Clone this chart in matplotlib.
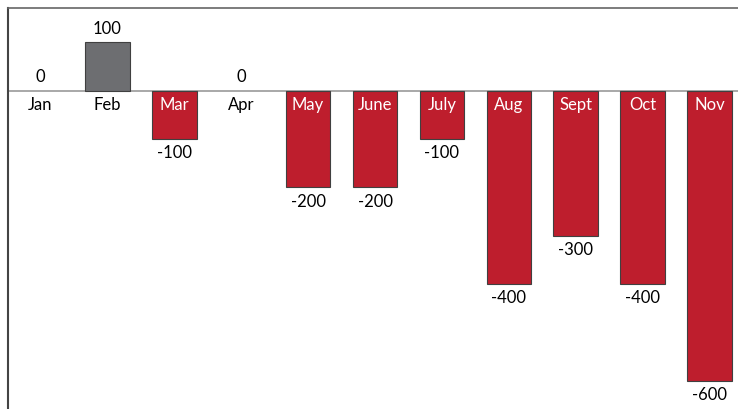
import matplotlib
matplotlib.use("Agg")
import matplotlib.pyplot as plt

months = ["Jan", "Feb", "Mar", "Apr", "May", "June", "July", "Aug", "Sept", "Oct", "Nov"]
values = [0, 100, -100, 0, -200, -200, -100, -400, -300, -400, -600]

RED = "#BE1E2D"
GRAY = "#6D6E71"

plt.rcParams['font.family'] = ['Lato', 'DejaVu Sans']

fig = plt.figure(figsize=(7.38, 4.10), dpi=100)
ax = fig.add_axes([8/738, 0, 730/738, 401/410])

x = list(range(len(months)))
colors = [GRAY if v > 0 else RED for v in values]
lws = [0.8 if v != 0 else 0 for v in values]
ax.bar(x, values, width=0.67, color=colors, edgecolor="#404040", linewidth=lws, zorder=3)

ax.set_xlim(-0.48, 10.42)
ax.set_ylim(-658, 170.5)
ax.axhline(0, color="#999999", linewidth=1.2, zorder=2)

for xi, v, m in zip(x, values, months):
    if v >= 0:
        ax.annotate(str(v), (xi, v), xytext=(0, 10.2), textcoords="offset points",
                    ha="center", va="center", fontsize=12, color="black")
        ax.annotate(m, (xi, 0), xytext=(0, -9.5), textcoords="offset points",
                    ha="center", va="center", fontsize=12, color="black")
    else:
        ax.annotate(str(v), (xi, v), xytext=(0, -9.5), textcoords="offset points",
                    ha="center", va="center", fontsize=12, color="black")
        ax.annotate(m, (xi, 0), xytext=(0, -9.5), textcoords="offset points",
                    ha="center", va="center", fontsize=12, color="white", zorder=4)

ax.set_xticks([])
ax.set_yticks([])
for s in ["right", "bottom"]:
    ax.spines[s].set_visible(False)
ax.spines["left"].set_color("#444444")
ax.spines["left"].set_linewidth(1.5)
ax.spines["top"].set_color("#666666")
ax.spines["top"].set_linewidth(1.2)

fig.savefig("out.png", dpi=100)
